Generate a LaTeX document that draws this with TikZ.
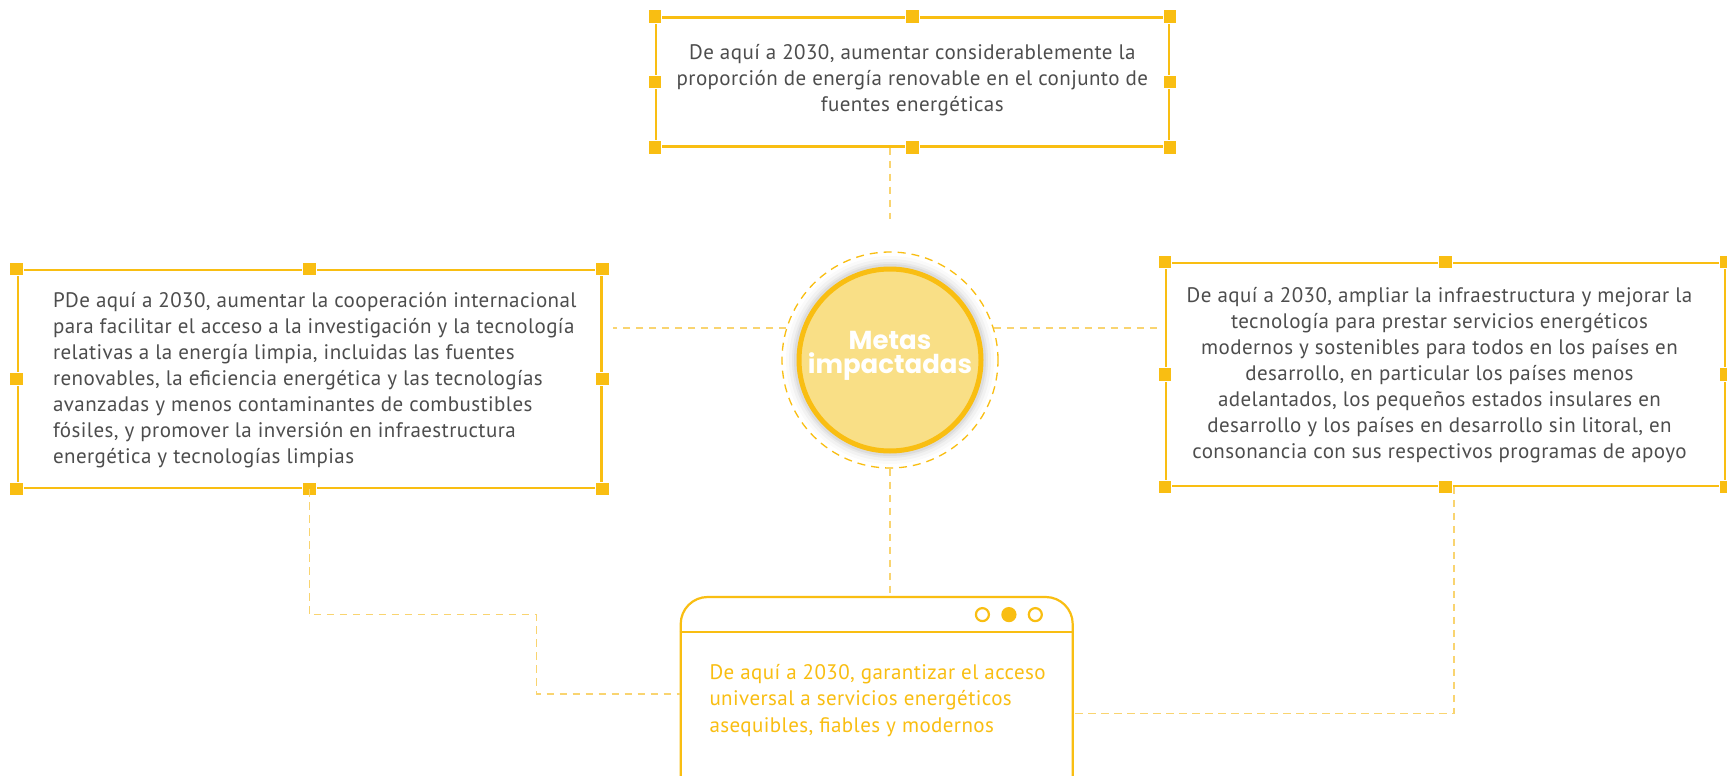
\documentclass[tikz,border=0pt]{standalone}
\usepackage{fontspec}
\setmainfont{PT Sans}[LetterSpace=2.0]
\newfontfamily\titlefont{Poppins}
\usetikzlibrary{calc}
\definecolor{ylw}{HTML}{F9BE12}
\definecolor{ylwl}{HTML}{F9D470}
\definecolor{corefill}{HTML}{F9DF86}
\definecolor{txt}{HTML}{4D4D4D}
\tikzset{
  frame/.style={draw=ylw, line width=2.2pt, rectangle, inner sep=0pt},
  sq/.style={rectangle, fill=ylw, draw=white, line width=0.8pt, minimum size=13.5pt, inner sep=0pt},
  conn/.style={draw=ylwl, line width=1.5pt, dash pattern=on 7.5pt off 5.5pt},
  bodytext/.style={text=txt, font=\fontsize{21}{25.9}\selectfont, inner sep=0pt},
  wdot/.style={circle, draw=ylw, line width=2.2pt, minimum size=13pt, inner sep=0pt},
}
\begin{document}
\begin{tikzpicture}[x=1pt,y=-1pt]
\useasboundingbox (0,0) rectangle (1727,776);
\clip (0,0) rectangle (1727,776);
\fill[white] (0,0) rectangle (1727,776);

% boxes
\node[frame, minimum width=512.6pt, minimum height=129pt] (T) at (912.3,82) {};
\node[frame, minimum width=583.8pt, minimum height=218pt] (L) at (309.5,378.9) {};
\node[frame, minimum width=558.7pt, minimum height=222.7pt] (R) at (1445.4,374.4) {};

\foreach \b in {T,L,R}{
  \foreach \a [count=\i] in {north west,north,north east,west,east,south west,south,south east}{
    \node[sq] (\b-sq-\i) at (\b.\a) {};
  }
}

% texts
\node[bodytext, align=center] (Tt) at (912.3,80.4)
 {De aquí a 2030, aumentar considerablemente la\\proporción de energía renovable en el conjunto de\\fuentes energéticas};
\node[bodytext, align=left, anchor=west] (Lt) at (52.9,380)
 {PDe aquí a 2030, aumentar la cooperación internacional\\para facilitar el acceso a la investigación y la tecnología\\relativas a la energía limpia, incluidas las fuentes\\renovables, la eficiencia energética y las tecnologías\\avanzadas y menos contaminantes de combustibles\\fósiles, y promover la inversión en infraestructura\\energética y tecnologías limpias};
\node[bodytext, align=center] (Rt) at (1439.5,375)
 {De aquí a 2030, ampliar la infraestructura y mejorar la\\tecnología para prestar servicios energéticos\\modernos y sostenibles para todos en los países en\\desarrollo, en particular los países menos\\adelantados, los pequeños estados insulares en\\desarrollo y los países en desarrollo sin litoral, en\\consonancia con sus respectivos programas de apoyo};

% central circle
\node[circle, draw=ylw, line width=1.3pt, dash pattern=on 8pt off 6pt, minimum size=216pt, inner sep=0pt] (Ring) at (890,360) {};
\foreach \r/\o in {104/0.02,101/0.03,98/0.04,96/0.05}{
  \fill[black, opacity=\o] (Ring.center) circle[radius=\r pt];
}
\node[circle, fill=corefill, draw=ylw, line width=5pt, minimum size=182pt, inner sep=0pt] (Core) at (890,360) {};
\node[text=white, font=\titlefont\bfseries\fontsize{26}{23.5}\selectfont, align=center, inner sep=0pt] (Ct) at (890,356) {Metas\\impactadas};

% window box
\node[draw=ylw, line width=2.2pt, rounded corners=27pt, minimum width=392pt, minimum height=250pt, anchor=north west, inner sep=0pt] (W) at (679.6,595.9) {};
\draw[ylw, line width=2.2pt] ($(W.north west)+(0,36.3)$) -- ($(W.north east)+(0,36.3)$);
\node[wdot] (d1) at (982.4,614.6) {};
\node[wdot, fill=ylw] (d2) at (1008.9,614.6) {};
\node[wdot] (d3) at (1035.3,614.6) {};
\node[text=ylw, font=\fontsize{21}{26.4}\selectfont, align=left, anchor=west, inner sep=0pt] (Wt) at (709.3,700.5)
 {De aquí a 2030, garantizar el acceso\\universal a servicios energéticos\\asequibles, fiables y modernos};

% connectors
\coordinate (tEnd) at ($(Ring.north)+(0,-32)$);
\draw[conn] (T.south -| Ring.north) -- (tEnd);
\draw[conn] (Ring.south) -- (Ring.south |- W.north);
\draw[conn] (Ring.163) -- ($(Ring.163 -| L.east)+(10,0)$);
\draw[conn] (Ring.17) -- ($(Ring.17 -| R.west)+(-6,0)$);
\coordinate (lm) at (536.4,614.6);
\coordinate (Wl) at ($(W.north west)+(0,98)$);
\draw[conn] (L.south) |- (lm) |- (Wl);
\coordinate (Wr) at ($(W.north east)+(0,117.8)$);
\draw[conn] ($(R.south)+(8.4,0)$) |- (Wr);
\end{tikzpicture}
\end{document}
